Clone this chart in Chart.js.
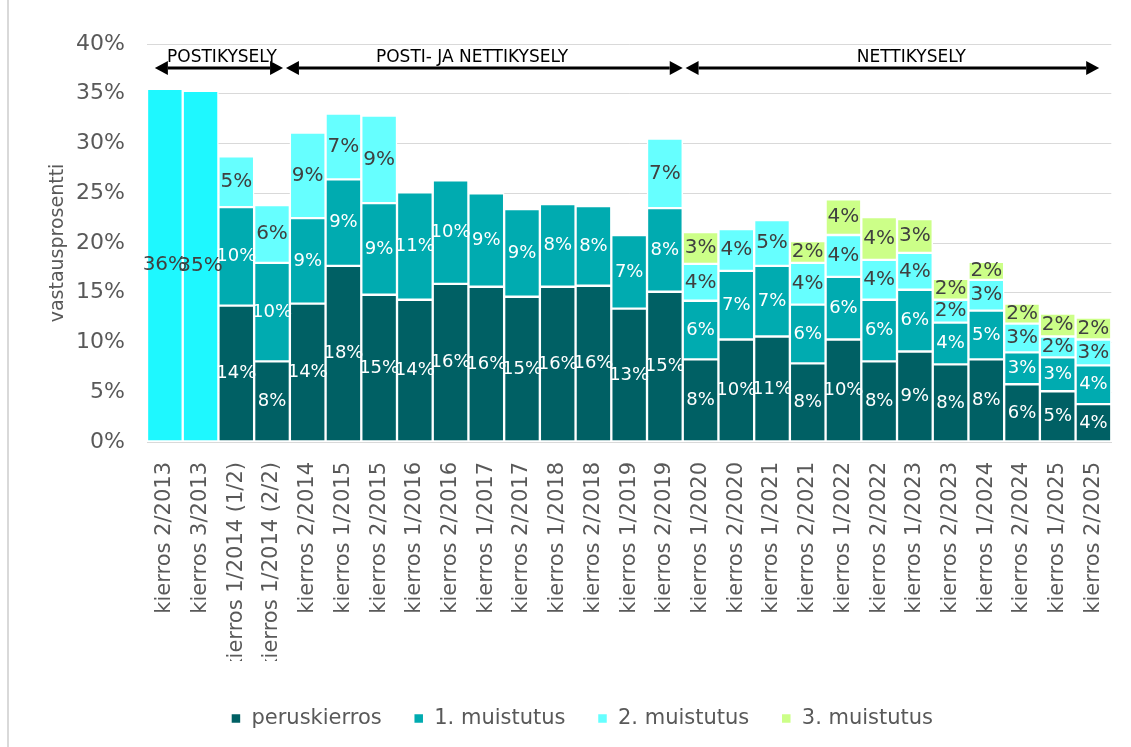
<!DOCTYPE html>
<html>
<head>
<meta charset="utf-8">
<script src="https://cdn.jsdelivr.net/npm/chart.js@4/dist/chart.umd.min.js"></script>
<style>
  body { margin: 0; background: #fff; }
  #wrap { position: relative; width: 1131px; height: 747px; }
  #frame { position: absolute; left: 7px; top: 0; width: 2px; height: 747px; background: #d9d9d9; }
</style>
</head>
<body>
<div id="wrap">
  <canvas id="myChart" width="1131" height="747"></canvas>
  <div id="frame"></div>
</div>
<script>
const labels = ['kierros 2/2013', 'kierros 3/2013', 'kierros 1/2014 (1/2)', 'kierros 1/2014 (2/2)',
  'kierros 2/2014', 'kierros 1/2015', 'kierros 2/2015', 'kierros 1/2016', 'kierros 2/2016',
  'kierros 1/2017', 'kierros 2/2017', 'kierros 1/2018', 'kierros 2/2018', 'kierros 1/2019',
  'kierros 2/2019', 'kierros 1/2020', 'kierros 2/2020', 'kierros 1/2021', 'kierros 2/2021',
  'kierros 1/2022', 'kierros 2/2022', 'kierros 1/2023', 'kierros 2/2023', 'kierros 1/2024',
  'kierros 2/2024', 'kierros 1/2025', 'kierros 2/2025'];

// 2013 rounds only have a total
const kokonais = [35.5, 35.3, null, null, null, null, null, null, null, null, null, null, null, null,
  null, null, null, null, null, null, null, null, null, null, null, null, null];
const peruskierros = [null, null, 13.7, 8.1, 13.9, 17.7, 14.8, 14.3, 15.9, 15.6, 14.6, 15.6, 15.7, 13.4,
  15.1, 8.3, 10.3, 10.6, 7.9, 10.3, 8.1, 9.1, 7.8, 8.3, 5.8, 5.1, 3.8];
const muistutus1 = [null, null, 9.9, 9.9, 8.6, 8.7, 9.2, 10.8, 10.4, 9.4, 8.8, 8.3, 8.0, 7.4,
  8.4, 5.9, 6.9, 7.1, 5.9, 6.3, 6.2, 6.2, 4.2, 4.9, 3.2, 3.4, 3.9];
const muistutus2 = [null, null, 5.1, 5.8, 8.6, 6.6, 8.8, null, null, null, null, null, null, null,
  7.0, 3.7, 4.2, 4.6, 4.2, 4.2, 4.0, 3.7, 2.3, 3.1, 2.9, 2.1, 2.6];
const muistutus3 = [null, null, null, null, null, null, null, null, null, null, null, null, null, null,
  null, 3.2, null, null, 2.2, 3.6, 4.3, 3.4, 2.1, 1.8, 2.0, 2.3, 2.2];

const yTicks = [0, 5, 10, 15, 20, 25, 30, 35, 40];

// survey periods shown with arrows above the bars (category index units)
const sectionNames = ['POSTIKYSELY', 'POSTI- JA NETTIKYSELY', 'NETTIKYSELY'];
const sectionFrom = [-0.28, 3.39, 14.58];
const sectionTo = [3.31, 14.5, 26.16];
const sectionText = [1.6, 8.6, 20.9];

Chart.defaults.font.family = "'DejaVu Sans', Verdana, sans-serif";

const darkLabel = '#404040';

const barLabels = {
  id: 'barLabels',
  beforeDraw(chart) {
    // cut the long rotated x labels like the original does
    const ctx = chart.ctx;
    const xs = chart.scales.x;
    const pad = chart.options.plugins.legend.labels.padding;
    ctx.save();
    ctx.beginPath();
    ctx.rect(0, 0, chart.width, chart.height);
    ctx.rect(0, xs.bottom - 15, chart.width, pad + 10);
    ctx.clip('evenodd');
  },
  afterDatasetsDraw(chart) {
    const ctx = chart.ctx;
    ctx.save();
    ctx.textAlign = 'center';
    ctx.textBaseline = 'middle';
    chart.data.datasets.forEach((ds, i) => {
      const meta = chart.getDatasetMeta(i);
      meta.data.forEach((bar, j) => {
        const v = ds.data[j];
        if (v == null) return;
        ctx.fillStyle = ds.labelColor;
        ctx.font = ds.labelSize + "px 'DejaVu Sans'";
        ctx.fillText(Math.round(v) + '%', bar.x, (bar.y + bar.base) / 2);
      });
    });
    ctx.restore();
  },
  afterDraw(chart) {
    const ctx = chart.ctx;
    const x = chart.scales.x, y = chart.scales.y;
    const ay = y.getPixelForValue(37.6);
    const ty = y.getPixelForValue(38.6);
    ctx.save();
    ctx.fillStyle = '#000';
    ctx.strokeStyle = '#000';
    ctx.lineWidth = 3;
    ctx.font = "17px 'DejaVu Sans'";
    ctx.textAlign = 'center';
    ctx.textBaseline = 'middle';
    sectionNames.forEach((name, i) => {
      const x1 = x.getPixelForValue(sectionFrom[i]);
      const x2 = x.getPixelForValue(sectionTo[i]);
      const head = 13;
      ctx.beginPath();
      ctx.moveTo(x1 + head, ay);
      ctx.lineTo(x2 - head, ay);
      ctx.stroke();
      ctx.beginPath();
      ctx.moveTo(x1, ay);
      ctx.lineTo(x1 + head, ay - 7);
      ctx.lineTo(x1 + head, ay + 7);
      ctx.closePath();
      ctx.fill();
      ctx.beginPath();
      ctx.moveTo(x2, ay);
      ctx.lineTo(x2 - head, ay - 7);
      ctx.lineTo(x2 - head, ay + 7);
      ctx.closePath();
      ctx.fill();
      ctx.fillText(name, x.getPixelForValue(sectionText[i]), ty);
    });
    ctx.restore();
    ctx.restore(); // clip from beforeDraw
  }
};

function bars(label, data, color, labelColor, labelSize) {
  return {
    label: label,
    data: data,
    backgroundColor: color,
    borderColor: '#ffffff',
    borderWidth: 1.5,
    borderSkipped: false,
    categoryPercentage: 1,
    barPercentage: 1,
    labelColor: labelColor,
    labelSize: labelSize
  };
}

const ctx = document.getElementById('myChart').getContext('2d');
const myChart = new Chart(ctx, {
  type: 'bar',
  data: {
    labels: labels,
    datasets: [
      bars('kokonais', kokonais, '#1ef8ff', darkLabel, 20),
      bars('peruskierros', peruskierros, '#006064', '#ffffff', 18),
      bars('1. muistutus', muistutus1, '#00abb0', '#ffffff', 18),
      bars('2. muistutus', muistutus2, '#66ffff', darkLabel, 20),
      bars('3. muistutus', muistutus3, '#ccff88', darkLabel, 20)
    ]
  },
  options: {
    responsive: false,
    animation: false,
    layout: { padding: { left: 52, top: 44, right: 19, bottom: 8 } },
    scales: {
      x: {
        stacked: true,
        grid: { display: false },
        border: { color: '#d9d9d9' },
        ticks: {
          minRotation: 90, maxRotation: 90, autoSkip: false,
          color: '#595959', font: { size: 21 }, padding: 12
        },
        afterFit(scale) { scale.height = 234; }
      },
      y: {
        stacked: true,
        min: 0, max: 40,
        afterBuildTicks(scale) { scale.ticks = yTicks.map(v => ({ value: v })); },
        grid: { color: '#d9d9d9', drawTicks: false },
        border: { display: false },
        ticks: {
          color: '#595959', font: { size: 22 }, padding: 22,
          callback: v => v + '%'
        },
        title: {
          display: true, text: 'vastausprosentti',
          color: '#595959', font: { size: 19 }, padding: { top: -5, bottom: 0 }
        },
        afterFit(scale) { scale.width = 95; }
      }
    },
    plugins: {
      legend: {
        position: 'bottom',
        labels: {
          boxWidth: 10, boxHeight: 10, padding: 32,
          color: '#595959', font: { size: 21 },
          filter: item => item.text !== 'kokonais'
        }
      },
      tooltip: { enabled: false }
    }
  },
  plugins: [barLabels]
});
</script>
</body>
</html>
